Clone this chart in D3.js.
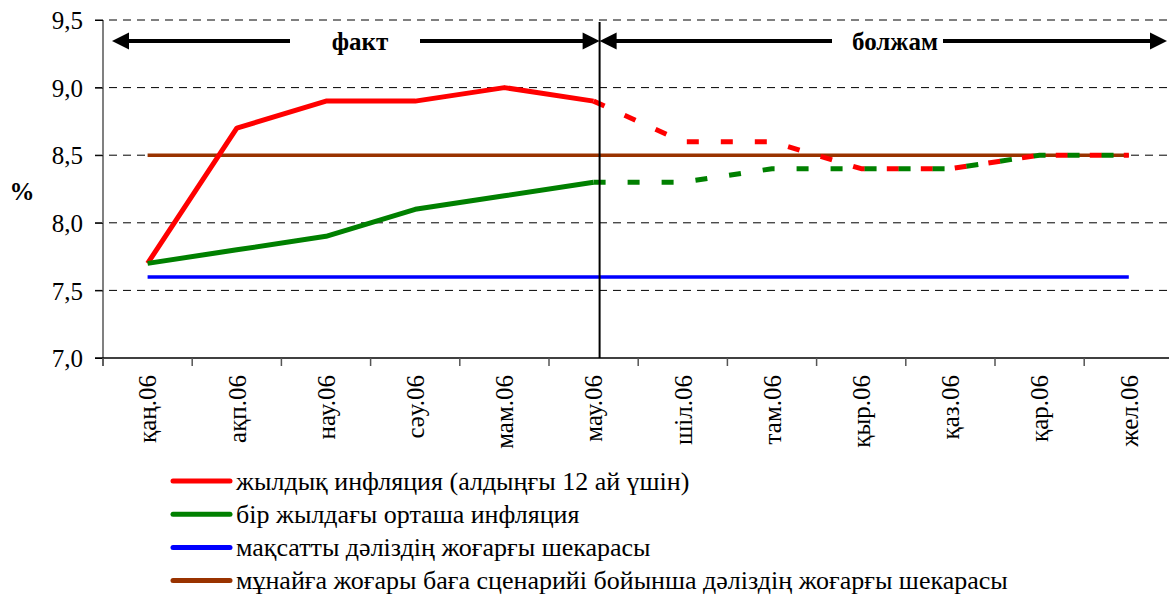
<!DOCTYPE html>
<html>
<head>
<meta charset="utf-8">
<script src="https://cdn.jsdelivr.net/npm/d3@7"></script>
<style>
  body { margin: 0; background: #fff; }
</style>
</head>
<body>
<script>
// months of 2006 (Kazakh)
const categories = ["қаң.06", "ақп.06", "нау.06", "сәу.06", "мам.06", "мау.06",
  "шіл.06", "там.06", "қыр.06", "қаз.06", "қар.06", "жел.06"];

const annualFact = [7.7, 8.7, 8.9, 8.9, 9.0, 8.9, null, null, null, null, null, null];
const annualForecast = [null, null, null, null, null, 8.9, 8.6, 8.6, 8.4, 8.4, 8.5, 8.5];
const averageFact = [7.7, 7.8, 7.9, 8.1, 8.2, 8.3, null, null, null, null, null, null];
const averageForecast = [null, null, null, null, null, 8.3, 8.3, 8.4, 8.4, 8.4, 8.5, 8.5];
const targetUpper = [7.6, 7.6, 7.6, 7.6, 7.6, 7.6, 7.6, 7.6, 7.6, 7.6, 7.6, 7.6];
const oilUpper = [8.5, 8.5, 8.5, 8.5, 8.5, 8.5, 8.5, 8.5, 8.5, 8.5, 8.5, 8.5];

const yTicks = [7.0, 7.5, 8.0, 8.5, 9.0, 9.5];
const legendNames = [
  "жылдық инфляция (алдыңғы 12 ай үшін)",
  "бір жылдағы орташа инфляция",
  "мақсатты дәліздің жоғарғы шекарасы",
  "мұнайға жоғары баға сценарийі бойынша дәліздің жоғарғы шекарасы"
];
const legendColors = ["#ff0000", "#008000", "#0000ff", "#993300"];

var width = 1169, height = 596;
var plotLeft = 103, plotTop = 20, plotBottom = 358;
var band = 89.2;
var serif = "Liberation Serif";

var svg = d3.select("body").append("svg")
  .attr("width", width).attr("height", height)
  .style("font-family", serif);

var x = d3.scaleBand().domain(categories).range([plotLeft, plotLeft + band * categories.length]);
var y = d3.scaleLinear().domain([7, 9.5]).range([plotBottom, plotTop]);
var cx = function (c) { return x(c) + x.bandwidth() / 2; };

// gridlines
svg.append("g").selectAll("line")
  .data(yTicks.filter(function (d) { return d > 7; }))
  .enter().append("line")
  .attr("x1", plotLeft - 8).attr("x2", width)
  .attr("y1", function (d) { return y(d); })
  .attr("y2", function (d) { return y(d); })
  .attr("stroke", "#000").attr("stroke-width", 1)
  .attr("stroke-dasharray", "8 6");

// y axis
var yAxis = svg.append("g")
  .attr("transform", "translate(" + plotLeft + ",0)")
  .call(d3.axisLeft(y).tickValues(yTicks).tickSize(8).tickSizeOuter(0)
    .tickFormat(function (d) { return d3.format(".1f")(d).replace(".", ","); }));
yAxis.attr("font-family", serif);
yAxis.select(".domain").attr("stroke", "#808080").attr("stroke-width", 2)
  .attr("d", "M0," + plotTop + "V" + (plotBottom + 8));
yAxis.selectAll(".tick line").attr("stroke", "#000");
yAxis.selectAll("text")
  .attr("x", -20).attr("dy", "0.35em").attr("fill", "#000")
  .style("font-size", "25px").style("font-family", serif);

// x axis
var xAxis = svg.append("g")
  .attr("transform", "translate(0," + plotBottom + ")")
  .call(d3.axisBottom(x).tickSize(0).tickSizeOuter(0));
xAxis.attr("font-family", serif);
xAxis.select(".domain").attr("stroke", "#000").attr("stroke-width", 1.5)
  .attr("d", "M" + (plotLeft - 8) + ",0H" + width);
xAxis.selectAll(".tick text")
  .attr("transform", "rotate(-90)")
  .attr("text-anchor", "end")
  .attr("x", -17).attr("y", 0).attr("dy", "0.35em").attr("fill", "#000")
  .style("font-size", "25px").style("font-family", serif);
svg.append("g").selectAll("line")
  .data(d3.range(categories.length + 1))
  .enter().append("line")
  .attr("x1", function (i) { return plotLeft + i * band; })
  .attr("x2", function (i) { return plotLeft + i * band; })
  .attr("y1", plotBottom).attr("y2", plotBottom + 8)
  .attr("stroke", "#555").attr("stroke-width", 1.5);

// % label
svg.append("text").attr("x", 22).attr("y", 200)
  .attr("text-anchor", "middle")
  .style("font-family", serif)
  .style("font-size", "25px").style("font-weight", "bold").text("%");

function series(values, color, w, dash) {
  var pts = categories.map(function (c, i) { return [c, values[i]]; })
    .filter(function (d) { return d[1] != null; });
  var line = d3.line()
    .x(function (d) { return cx(d[0]); })
    .y(function (d) { return y(d[1]); });
  svg.append("path").datum(pts)
    .attr("d", line)
    .attr("fill", "none")
    .attr("stroke", color)
    .attr("stroke-width", w)
    .attr("stroke-linejoin", "round")
    .attr("stroke-dasharray", dash || null);
}

series(oilUpper, "#993300", 3.5);
series(targetUpper, "#0000ff", 3.5);
series(annualFact, "#ff0000", 5);
series(averageFact, "#008000", 5);
series(annualForecast, "#ff0000", 5, "12 22");
series(averageForecast, "#008000", 5, "12 22");

// fact / forecast divider
var split = cx("мау.06") + 6;
svg.append("line")
  .attr("x1", split).attr("x2", split)
  .attr("y1", plotTop + 2).attr("y2", plotBottom)
  .attr("stroke", "#000").attr("stroke-width", 2);

// arrows
var ay = 41;
function arrowLine(x1, x2) {
  svg.append("line").attr("x1", x1).attr("x2", x2)
    .attr("y1", ay).attr("y2", ay)
    .attr("stroke", "#000").attr("stroke-width", 4);
}
function arrowHead(tip, dir) {
  svg.append("path")
    .attr("d", "M" + tip + "," + ay + "L" + (tip - dir * 17) + "," + (ay - 8.5) +
      "L" + (tip - dir * 17) + "," + (ay + 8.5) + "Z")
    .attr("fill", "#000");
}
arrowLine(125, 290);
arrowHead(112, -1);
arrowLine(420, split - 12);
arrowHead(split, 1);
arrowLine(split + 12, 832);
arrowHead(split, -1);
arrowLine(943, 1154);
arrowHead(1167, 1);

svg.append("text").attr("x", 360).attr("y", 50).attr("text-anchor", "middle")
  .style("font-family", serif)
  .style("font-size", "25px").style("font-weight", "bold").text("факт");
svg.append("text").attr("x", 895).attr("y", 50).attr("text-anchor", "middle")
  .style("font-family", serif)
  .style("font-size", "25px").style("font-weight", "bold").text("болжам");

// legend
var legend = svg.append("g").selectAll("g")
  .data(legendNames)
  .enter().append("g")
  .attr("transform", function (d, i) { return "translate(173," + (481 + i * 33.2) + ")"; });
legend.append("line")
  .attr("x1", 0).attr("x2", 57)
  .attr("stroke", function (d, i) { return legendColors[i]; })
  .attr("stroke-width", 5).attr("stroke-linecap", "round");
legend.append("text")
  .attr("x", 63).attr("dy", "0.33em")
  .style("font-family", serif)
  .style("font-size", "26px").text(function (d) { return d; });
</script>
</body>
</html>
